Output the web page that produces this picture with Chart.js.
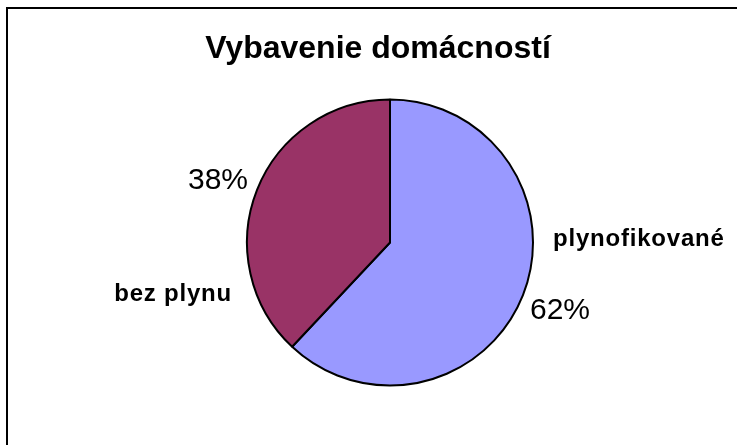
<!DOCTYPE html>
<html>
<head>
<meta charset="utf-8">
<script src="https://cdn.jsdelivr.net/npm/chart.js@4"></script>
<style>
  html, body { margin: 0; padding: 0; background: #fff; }
  #wrap { width: 737px; height: 445px; }
</style>
</head>
<body>
<div id="wrap"><canvas id="pieChart" width="737" height="445"></canvas></div>
<script>
/*********************************************
 *  DATA
 *********************************************/
const chartTitle = "Vybavenie domácností";
const categories = ["plynofikované", "bez plynu"];
const shares = [62, 38];

/*********************************************
 *  FRAME (top + left edge of the Excel chart box)
 *********************************************/
const framePlugin = {
  id: "frame",
  beforeDraw(chart) {
    const ctx = chart.ctx;
    ctx.save();
    ctx.fillStyle = "#fff";
    ctx.fillRect(0, 0, chart.width, chart.height);
    ctx.strokeStyle = "#000";
    ctx.lineWidth = 2;
    ctx.beginPath();
    ctx.moveTo(7, chart.height);
    ctx.lineTo(7, 8);
    ctx.lineTo(chart.width, 8);
    ctx.stroke();
    ctx.restore();
  },
};

/*********************************************
 *  TITLE + LABELS (placed off each arc's mid point)
 *********************************************/
// offsets from the arc's outer mid point
const labelLayout = [
  { pct: { dx: 7, dy: 24, align: "left" },  name: { dx: 30, dy: -49, align: "left" } },
  { pct: { dx: -9, dy: -1, align: "right" }, name: { dx: -25, dy: 111, align: "right" } },
];

const labelPlugin = {
  id: "pieLabels",
  afterDraw(chart) {
    const ctx = chart.ctx;
    const meta = chart.getDatasetMeta(0);
    const data = chart.data.datasets[0].data;
    const total = data.reduce((a, b) => a + b, 0);

    ctx.save();
    ctx.fillStyle = "#000";
    ctx.textBaseline = "alphabetic";

    // title
    ctx.font = "bold 32px 'Liberation Sans', Arial, sans-serif";
    ctx.textAlign = "center";
    ctx.fillText(chartTitle, 378, 58);

    meta.data.forEach((arc, i) => {
      const p = arc.getProps(["x", "y", "startAngle", "endAngle", "outerRadius"], true);
      const mid = (p.startAngle + p.endAngle) / 2;
      const ex = p.x + Math.cos(mid) * p.outerRadius;
      const ey = p.y + Math.sin(mid) * p.outerRadius;
      const lay = labelLayout[i];

      ctx.font = "30px 'Liberation Sans', Arial, sans-serif";
      if ("letterSpacing" in ctx) ctx.letterSpacing = "0px";
      ctx.textAlign = lay.pct.align;
      ctx.fillText(Math.round((data[i] / total) * 100) + "%", ex + lay.pct.dx, ey + lay.pct.dy);

      ctx.font = "bold 24px 'Liberation Sans', Arial, sans-serif";
      if ("letterSpacing" in ctx) ctx.letterSpacing = "0.8px";
      ctx.textAlign = lay.name.align;
      ctx.fillText(chart.data.labels[i], ex + lay.name.dx, ey + lay.name.dy);
    });
    ctx.restore();
  },
};

/*********************************************
 *  CHART
 *********************************************/
const ctx = document.getElementById("pieChart").getContext("2d");
new Chart(ctx, {
  type: "pie",
  data: {
    labels: categories,
    datasets: [
      {
        data: shares,
        backgroundColor: ["#9999FF", "#993366"],
        borderColor: "#000",
        borderWidth: 2,
      },
    ],
  },
  options: {
    responsive: false,
    animation: false,
    radius: 143,
    layout: {
      padding: { top: 100, bottom: 60, left: 243, right: 200 },
    },
    plugins: {
      legend: { display: false },
      title: { display: false },
      tooltip: { enabled: false },
    },
  },
  plugins: [framePlugin, labelPlugin],
});
</script>
</body>
</html>
